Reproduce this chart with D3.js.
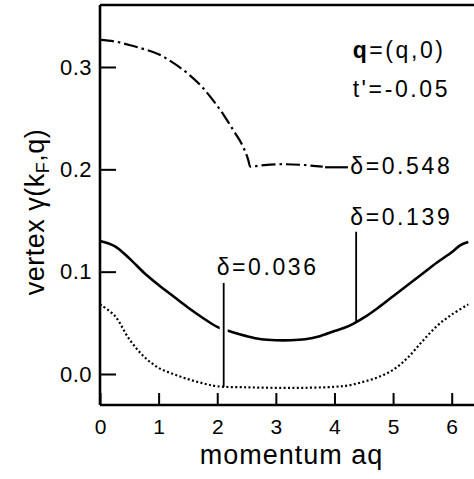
<!DOCTYPE html>
<html>
<head>
<meta charset="utf-8">
<script src="https://cdn.jsdelivr.net/npm/d3@7"></script>
<style>
  body { margin: 0; background: #fff; }
  svg { display: block; font-family: "Liberation Sans", Arial, sans-serif; }
</style>
</head>
<body>
<div id="chart"></div>
<script>
// momentum grid and vertex values
const qSolid = [0, 0.25, 0.5, 0.75, 1.0, 1.25, 1.5, 1.75, 2.0, 2.25, 2.5, 2.75, 3.0, 3.25, 3.5, 3.75, 4.0, 4.25, 4.5, 4.75, 5.0, 5.25, 5.5, 5.75, 6.0, 6.15, 6.283];
const vSolid = [0.130, 0.125, 0.113, 0.099, 0.087, 0.076, 0.065, 0.055, 0.046, 0.041, 0.037, 0.034, 0.033, 0.033, 0.034, 0.037, 0.042, 0.047, 0.055, 0.065, 0.076, 0.087, 0.098, 0.109, 0.119, 0.126, 0.129];

const qDotted = [0, 0.25, 0.5, 0.75, 1.0, 1.25, 1.5, 1.75, 2.0, 2.5, 3.0, 3.5, 4.0, 4.25, 4.5, 4.75, 5.0, 5.25, 5.5, 5.75, 6.0, 6.283];
const vDotted = [0.068, 0.057, 0.034, 0.017, 0.006, 0.000, -0.005, -0.009, -0.012, -0.013, -0.0135, -0.0135, -0.0125, -0.011, -0.0075, -0.003, 0.004, 0.016, 0.032, 0.047, 0.058, 0.068];

const qDashDot = [0, 0.25, 0.5, 0.75, 1.0, 1.25, 1.5, 1.75, 2.0, 2.1, 2.2, 2.3, 2.45, 2.53, 2.56, 2.8, 3.1, 3.4, 3.8];
const vDashDot = [0.3265, 0.325, 0.3215, 0.3175, 0.3125, 0.304, 0.2935, 0.280, 0.262, 0.254, 0.245, 0.236, 0.221, 0.209, 0.2027, 0.2042, 0.205, 0.2045, 0.2025];

const xTicks = [0, 1, 2, 3, 4, 5, 6];
const yTicks = [0.0, 0.1, 0.2, 0.3];
const deltaLabels = ["δ=0.548", "δ=0.139", "δ=0.036"];

const W = 474, H = 479;
const plotLeft = 100, plotTop = 5, plotBottom = 405;

const x = d3.scaleLinear().domain([0, 6]).range([plotLeft, 451.7]);
const y = d3.scaleLinear().domain([0, 0.3]).range([374, 67]);

const svg = d3.select("#chart").append("svg")
  .attr("width", W)
  .attr("height", H);

// frame: left axis, top and bottom lines (right side runs off the picture)
svg.append("line").attr("x1", plotLeft).attr("x2", plotLeft).attr("y1", plotTop).attr("y2", plotBottom)
  .attr("stroke", "#000").attr("stroke-width", 2.6);
svg.append("line").attr("x1", plotLeft).attr("x2", W).attr("y1", plotTop).attr("y2", plotTop)
  .attr("stroke", "#000").attr("stroke-width", 2.6);
svg.append("line").attr("x1", plotLeft).attr("x2", W).attr("y1", plotBottom).attr("y2", plotBottom)
  .attr("stroke", "#000").attr("stroke-width", 2.6);

// x axis, ticks pointing inward
const gx = svg.append("g")
  .attr("transform", "translate(0," + plotBottom + ")")
  .call(d3.axisBottom(x).tickValues(xTicks).tickFormat(d3.format("d"))
    .tickSizeInner(-12).tickSizeOuter(0).tickPadding(14));
gx.select(".domain").remove();
gx.selectAll(".tick line").attr("stroke-width", 2);
gx.selectAll(".tick text").attr("font-size", 21).attr("font-family", null).attr("fill", "#000");

// y axis
const gy = svg.append("g")
  .attr("transform", "translate(" + plotLeft + ",0)")
  .call(d3.axisLeft(y).tickValues(yTicks).tickFormat(d3.format(".1f"))
    .tickSizeInner(-16).tickSizeOuter(0).tickPadding(8));
gy.select(".domain").remove();
gy.selectAll(".tick line").attr("stroke-width", 2);
gy.selectAll(".tick text").attr("font-size", 22).attr("font-family", null)
  .attr("fill", "#000").attr("letter-spacing", 0.5);

// axis titles
svg.append("text")
  .attr("x", 291.5).attr("y", 464)
  .attr("text-anchor", "middle")
  .attr("font-size", 27).attr("letter-spacing", 1)
  .text("momentum aq");

const yt = svg.append("text")
  .attr("transform", "translate(44,212) rotate(-90)")
  .attr("text-anchor", "middle")
  .attr("font-size", 27).attr("letter-spacing", 0.5);
yt.append("tspan").text("vertex γ(k");
yt.append("tspan").attr("font-size", 18).attr("dy", 5).text("F");
yt.append("tspan").attr("dy", -5).text(",q)");

// curves
const smooth = d3.line()
  .x(d => x(d[0]))
  .y(d => y(d[1]))
  .curve(d3.curveCatmullRom.alpha(0.5));
const kinked = d3.line()
  .x(d => x(d[0]))
  .y(d => y(d[1]))
  .curve(d3.curveMonotoneX);

svg.append("path")
  .datum(d3.zip(qDashDot, vDashDot))
  .attr("d", kinked)
  .attr("fill", "none").attr("stroke", "#000")
  .attr("stroke-width", 2.2).attr("stroke-dasharray", "14,4,2.5,4");

svg.append("path")
  .datum(d3.zip(qSolid, vSolid))
  .attr("d", smooth)
  .attr("fill", "none").attr("stroke", "#000")
  .attr("stroke-width", 2.6);

svg.append("path")
  .datum(d3.zip(qDotted, vDotted))
  .attr("d", smooth)
  .attr("fill", "none").attr("stroke", "#000")
  .attr("stroke-width", 2.2).attr("stroke-dasharray", "2,2.4");

// leader lines
// delta=0.036: white knockout through the solid curve, then the line itself
svg.append("line")
  .attr("x1", x(2.11)).attr("x2", x(2.11)).attr("y1", y(0.06)).attr("y2", y(0.03))
  .attr("stroke", "#fff").attr("stroke-width", 8);
svg.append("line")
  .attr("x1", x(2.11)).attr("x2", x(2.11)).attr("y1", y(0.089)).attr("y2", y(-0.0125))
  .attr("stroke", "#000").attr("stroke-width", 1.8);
// delta=0.139
svg.append("line")
  .attr("x1", x(4.37)).attr("x2", x(4.37)).attr("y1", y(0.139)).attr("y2", y(0.050))
  .attr("stroke", "#000").attr("stroke-width", 1.8);
// delta=0.548
svg.append("line")
  .attr("x1", x(3.84)).attr("x2", x(4.23)).attr("y1", y(0.202)).attr("y2", y(0.202))
  .attr("stroke", "#000").attr("stroke-width", 2.2);

// labels
const label = (px, py, parts) => {
  const t = svg.append("text")
    .attr("x", px).attr("y", py)
    .attr("font-size", 23).attr("letter-spacing", 2.6);
  parts.forEach(p => t.append("tspan").attr("font-weight", p[1] ? "bold" : null).text(p[0]));
  return t;
};
label(x(4.27), y(0.1955), [[deltaLabels[0]]]);
label(x(4.27), y(0.146), [[deltaLabels[1]]]);
label(x(1.99), y(0.0965), [[deltaLabels[2]]]);
label(x(4.31), y(0.309), [["q", true], ["=(q,0)"]]);
label(x(4.31), y(0.2710), [["t'=-0.05"]]);
</script>
</body>
</html>
